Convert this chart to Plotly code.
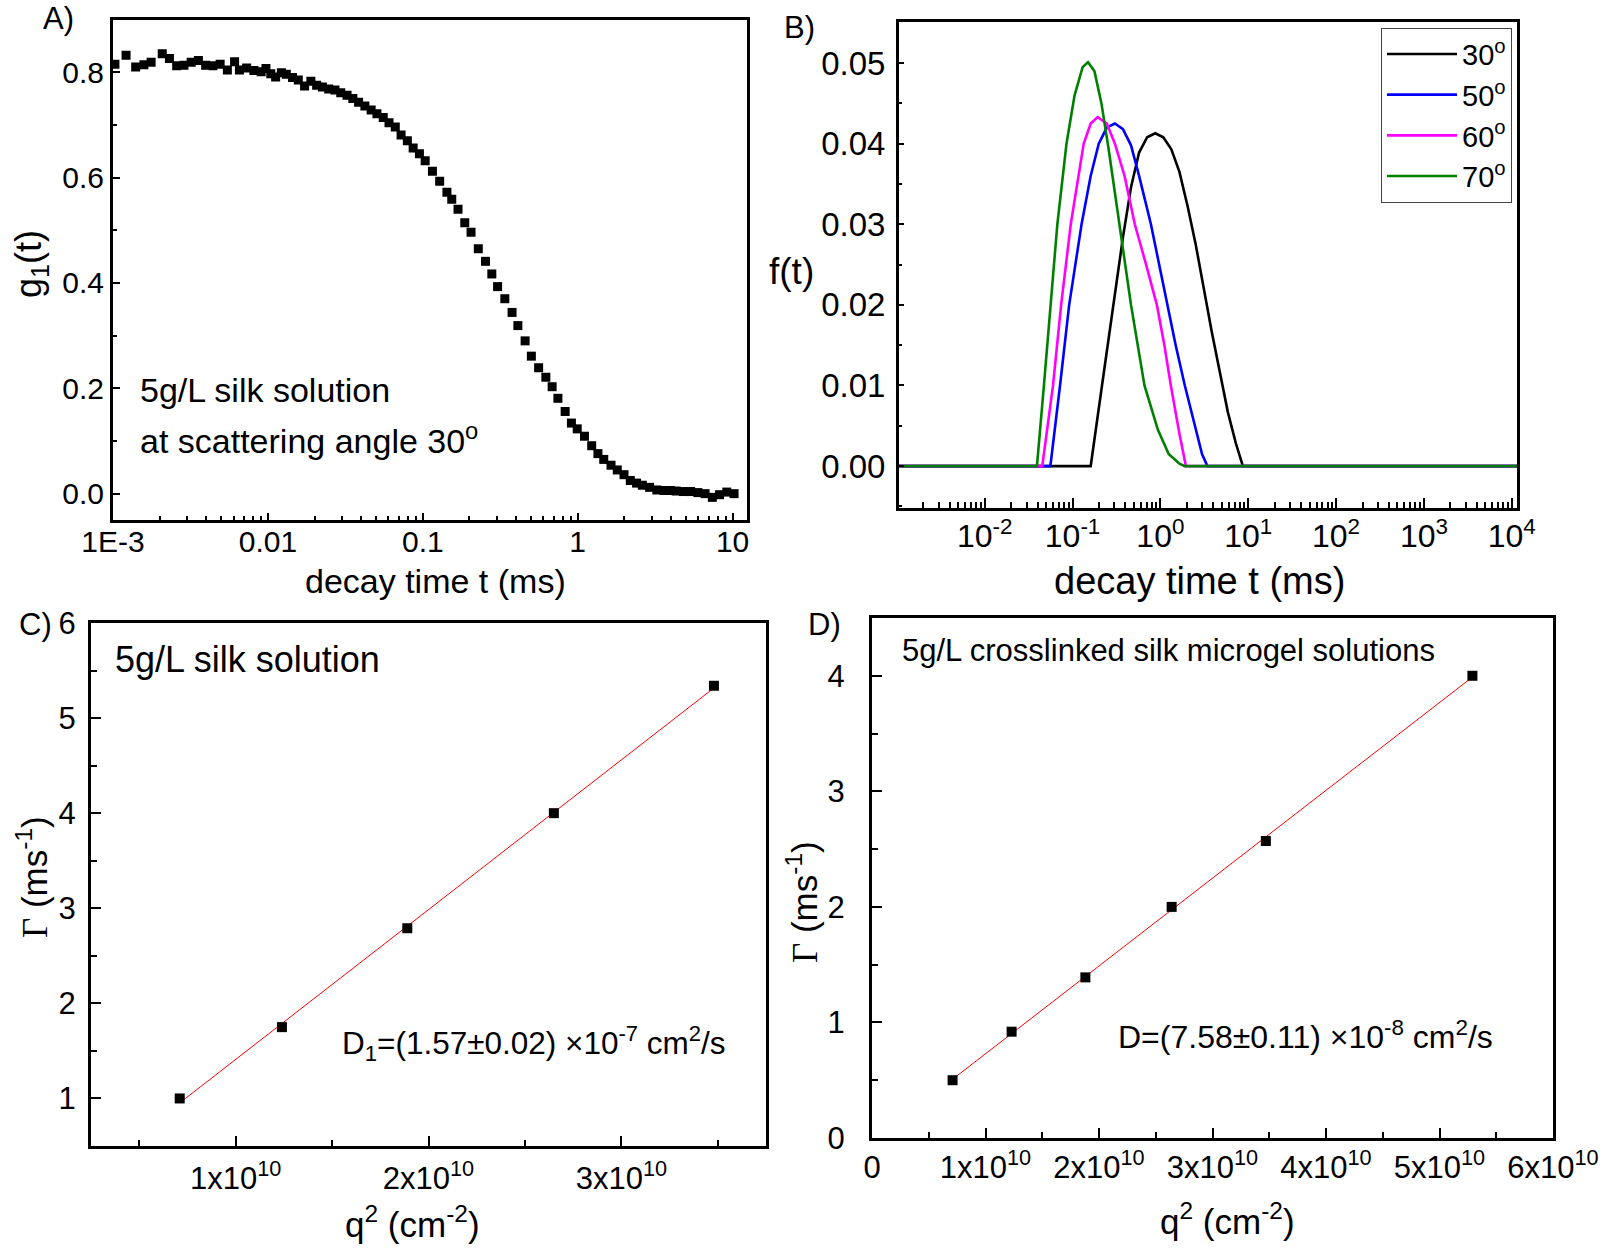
import numpy as np
import plotly.graph_objects as go

W, H = 1603, 1250
FONT = "Liberation Sans, Arial, sans-serif"

# ---------------- Panel A: g1(t) at 30 deg ----------------
decay_time_ms = [0.001029, 0.001214, 0.001401, 0.001583, 0.001762, 0.002079, 0.002314, 0.002577,
                 0.002870, 0.003197, 0.003560, 0.003964, 0.004415, 0.004916, 0.005474, 0.006095,
                 0.006549, 0.007293, 0.008122, 0.009045, 0.009716, 0.01044, 0.01122, 0.01222,
                 0.01314, 0.01442, 0.01571, 0.01725, 0.01894, 0.02064, 0.02249, 0.02469, 0.02710,
                 0.02954, 0.03243, 0.03535, 0.03851, 0.04228, 0.04642, 0.05058, 0.05553, 0.06051,
                 0.06644, 0.07241, 0.07950, 0.08664, 0.09510, 0.1036, 0.1154, 0.1285, 0.1431,
                 0.1538, 0.1688, 0.1866, 0.2049, 0.2282, 0.2541, 0.2790, 0.3040, 0.3385, 0.3770,
                 0.4110, 0.4576, 0.5022, 0.5595, 0.6228, 0.6837, 0.7452, 0.8299, 0.9109, 0.9929,
                 1.106, 1.231, 1.351, 1.473, 1.641, 1.801, 1.991, 2.186, 2.399, 2.615, 2.912,
                 3.244, 3.612, 3.964, 4.320, 4.812, 5.358, 5.967, 6.644, 7.400, 8.240, 9.176, 10.22]
g1_values = [0.815, 0.832, 0.810, 0.814, 0.819, 0.835, 0.826, 0.812, 0.813, 0.819, 0.822, 0.813,
             0.812, 0.815, 0.804, 0.820, 0.804, 0.808, 0.803, 0.801, 0.807, 0.797, 0.791, 0.799,
             0.796, 0.790, 0.785, 0.774, 0.783, 0.775, 0.772, 0.768, 0.766, 0.761, 0.756, 0.750,
             0.743, 0.736, 0.728, 0.721, 0.714, 0.704, 0.696, 0.681, 0.670, 0.656, 0.645, 0.632,
             0.612, 0.593, 0.572, 0.559, 0.540, 0.514, 0.496, 0.465, 0.441, 0.417, 0.393, 0.370,
             0.344, 0.319, 0.290, 0.261, 0.239, 0.221, 0.203, 0.181, 0.156, 0.134, 0.123, 0.109,
             0.091, 0.076, 0.065, 0.054, 0.045, 0.036, 0.025, 0.020, 0.016, 0.012, 0.007, 0.006,
             0.006, 0.005, 0.004, 0.004, 0.002, 0.000, -0.007, -0.002, 0.003, 0.000]

# ---------------- Panel B: decay time distributions ----------------
t_30 = [0.001, 0.1608, 0.2132, 0.2827, 0.3748, 0.4629, 0.5722, 0.7068, 0.8733, 1.079, 1.333,
        1.647, 2.035, 2.514, 3.107, 3.838, 4.742, 5.861, 7.240, 8.696, 12000]
f_30 = [0, 0, 0.0095, 0.0190, 0.0284, 0.0346, 0.0389, 0.0408, 0.0413, 0.0408, 0.0393,
        0.0365, 0.0323, 0.0276, 0.0219, 0.0167, 0.0117, 0.0067, 0.0028, 0, 0]
t_50 = [0.001, 0.0559, 0.0720, 0.0915, 0.1266, 0.1608, 0.1987, 0.2455, 0.3033, 0.3748, 0.4629,
        0.5722, 0.7801, 0.9640, 1.191, 1.493, 1.897, 2.514, 2.979, 3.429, 12000]
f_50 = [0, 0, 0.010, 0.020, 0.030, 0.036, 0.040, 0.0420, 0.0425, 0.0418, 0.0398,
        0.0360, 0.030, 0.025, 0.020, 0.015, 0.010, 0.0045, 0.0015, 0, 0]
t_60 = [0.001, 0.0452, 0.0599, 0.0741, 0.0954, 0.1338, 0.1608, 0.1932, 0.2455, 0.3033, 0.3909,
        0.5111, 0.6874, 0.9112, 1.110, 1.315, 1.647, 1.951, 12000]
f_60 = [0, 0, 0.010, 0.020, 0.030, 0.040, 0.0425, 0.0433, 0.0425, 0.040, 0.036,
        0.030, 0.025, 0.020, 0.015, 0.010, 0.004, 0, 0]
t_70 = [0.001, 0.0393, 0.0472, 0.0559, 0.0671, 0.0853, 0.1054, 0.1302, 0.1499, 0.1775, 0.2132,
        0.2561, 0.3396, 0.4629, 0.6587, 0.9372, 1.242, 1.647, 1.897, 12000]
f_70 = [0, 0, 0.010, 0.020, 0.030, 0.040, 0.046, 0.0495, 0.0501, 0.0490, 0.0450,
        0.0395, 0.030, 0.020, 0.010, 0.0045, 0.0015, 0.0003, 0, 0]
angle_names = ["30<sup>o</sup>", "50<sup>o</sup>", "60<sup>o</sup>", "70<sup>o</sup>"]
angle_colors = ["#000000", "#0000FF", "#FF00FF", "#008000"]

# ---------------- Panel C: silk solution ----------------
q2_silk = [0.71e10, 1.24e10, 1.89e10, 2.65e10, 3.48e10]
gamma_silk = [1.00, 1.75, 2.79, 4.00, 5.34]

# ---------------- Panel D: crosslinked microgel ----------------
q2_gel = [0.71e10, 1.23e10, 1.88e10, 2.64e10, 3.47e10, 5.29e10]
gamma_gel = [0.50, 0.92, 1.39, 2.00, 2.57, 4.00]

# tick labels
tickvals_A = [0.001, 0.01, 0.1, 1, 10]
ticktext_A = ["1E-3", "0.01", "0.1", "1", "10"]
tickvals_B = [1e-2, 1e-1, 1, 10, 100, 1000, 10000]
ticktext_B = ["10<sup>-2</sup>", "10<sup>-1</sup>", "10<sup>0</sup>", "10<sup>1</sup>",
              "10<sup>2</sup>", "10<sup>3</sup>", "10<sup>4</sup>"]
tickvals_C = [1e10, 2e10, 3e10]
ticktext_C = ["1x10<sup>10</sup>", "2x10<sup>10</sup>", "3x10<sup>10</sup>"]
tickvals_D = [0, 1e10, 2e10, 3e10, 4e10, 5e10, 6e10]
ticktext_D = ["0", "1x10<sup>10</sup>", "2x10<sup>10</sup>", "3x10<sup>10</sup>",
              "4x10<sup>10</sup>", "5x10<sup>10</sup>", "6x10<sup>10</sup>"]


def xp(px):
    return px / W


def yp(py):
    return 1 - py / H


fig = go.Figure()

# A
fig.add_trace(go.Scatter(x=decay_time_ms, y=g1_values, mode="markers",
                         marker=dict(symbol="square", size=9, color="black"),
                         xaxis="x", yaxis="y", showlegend=False))
# B
for t, f, nm, col in zip([t_30, t_50, t_60, t_70], [f_30, f_50, f_60, f_70], angle_names, angle_colors):
    fig.add_trace(go.Scatter(x=t, y=f, mode="lines", name=nm,
                             line=dict(color=col, width=2.6), xaxis="x2", yaxis="y2"))
# C
sC, iC = np.polyfit(q2_silk, gamma_silk, 1)
xC = np.array([min(q2_silk), max(q2_silk)])
fig.add_trace(go.Scatter(x=xC, y=sC * xC + iC, mode="lines", line=dict(color="#FF0000", width=1),
                         xaxis="x3", yaxis="y3", showlegend=False))
fig.add_trace(go.Scatter(x=q2_silk, y=gamma_silk, mode="markers",
                         marker=dict(symbol="square", size=10, color="black"),
                         xaxis="x3", yaxis="y3", showlegend=False))
# D
sD, iD = np.polyfit(q2_gel, gamma_gel, 1)
xD = np.array([min(q2_gel), max(q2_gel)])
fig.add_trace(go.Scatter(x=xD, y=sD * xD + iD, mode="lines", line=dict(color="#FF0000", width=1),
                         xaxis="x4", yaxis="y4", showlegend=False))
fig.add_trace(go.Scatter(x=q2_gel, y=gamma_gel, mode="markers",
                         marker=dict(symbol="square", size=10, color="black"),
                         xaxis="x4", yaxis="y4", showlegend=False))

base = dict(showline=True, linecolor="black", linewidth=3, mirror=True, ticks="inside",
            tickcolor="black", tickwidth=2, showgrid=False, zeroline=False, automargin=False,
            tickfont=dict(family=FONT, size=30, color="black"))


def ax(**kw):
    d = dict(base)
    d.update(kw)
    return d


def tf(size):
    return dict(family=FONT, size=size, color="black")


minor_A = [m * 10.0 ** e for e in range(-3, 2) for m in range(2, 10)]
minor_B = [m * 10.0 ** e for e in range(-3, 4) for m in range(2, 10)]

fig.update_layout(
    width=W, height=H, autosize=False,
    margin=dict(l=0, r=0, t=0, b=0, pad=0, autoexpand=False),
    paper_bgcolor="white", plot_bgcolor="white",
    font=dict(family=FONT, color="black"),
    xaxis=ax(type="log", range=[-3, 1.093], domain=[xp(113), xp(747)], anchor="y",
             tickmode="array", tickvals=tickvals_A, ticktext=ticktext_A, ticklen=7,
             ticklabelstandoff=-7, tickfont=tf(30),
             minor=dict(tickmode="array", tickvals=minor_A, ticks="inside", ticklen=4,
                        tickwidth=1.5, tickcolor="black")),
    yaxis=ax(range=[-0.05, 0.9], domain=[yp(520), yp(19.5)], anchor="x",
             tickmode="linear", tick0=0, dtick=0.2, tickformat=".1f", ticklen=7,
             ticklabelstandoff=0, tickfont=tf(30),
             minor=dict(dtick=0.1, tick0=0, ticks="inside", ticklen=4, tickwidth=1.5,
                        tickcolor="black")),
    xaxis2=ax(type="log", range=[-2.976, 4.06], domain=[xp(899), xp(1517)], anchor="y2",
              tickmode="array", tickvals=tickvals_B, ticktext=ticktext_B, ticklen=10,
              ticklabelstandoff=-2, tickfont=tf(32),
              minor=dict(tickmode="array", tickvals=minor_B, ticks="inside", ticklen=6,
                         tickwidth=1.5, tickcolor="black")),
    yaxis2=ax(range=[-0.0052, 0.0551], domain=[yp(508), yp(22)], anchor="x2",
              tickmode="linear", tick0=0, dtick=0.01, tickformat=".2f", ticklen=5,
              ticklabelstandoff=4, tickfont=tf(33),
              minor=dict(dtick=0.005, tick0=0, ticks="inside", ticklen=3, tickwidth=1.5,
                         tickcolor="black")),
    xaxis3=ax(range=[0.25e10, 3.75e10], domain=[xp(91), xp(766)], anchor="y3",
              tickmode="array", tickvals=tickvals_C, ticktext=ticktext_C, ticklen=10,
              ticklabelstandoff=3, tickfont=tf(31),
              minor=dict(dtick=0.5e10, tick0=0, ticks="inside", ticklen=6, tickwidth=1.5,
                         tickcolor="black")),
    yaxis3=ax(range=[0.5, 6], domain=[yp(1146), yp(623)], anchor="x3",
              tickmode="linear", tick0=0, dtick=1, ticklen=10, ticklabelstandoff=6,
              tickfont=tf(31),
              minor=dict(dtick=0.5, tick0=0, ticks="inside", ticklen=6, tickwidth=1.5,
                         tickcolor="black")),
    xaxis4=ax(range=[0, 6e10], domain=[xp(872), xp(1553)], anchor="y4",
              tickmode="array", tickvals=tickvals_D, ticktext=ticktext_D, ticklen=10,
              ticklabelstandoff=0, tickfont=tf(31),
              minor=dict(dtick=0.5e10, tick0=0, ticks="inside", ticklen=6, tickwidth=1.5,
                         tickcolor="black")),
    yaxis4=ax(range=[0, 4.5], domain=[yp(1138), yp(618)], anchor="x4",
              tickmode="linear", tick0=0, dtick=1, ticklen=10, ticklabelstandoff=18,
              tickfont=tf(31),
              minor=dict(dtick=0.5, tick0=0, ticks="inside", ticklen=6, tickwidth=1.5,
                         tickcolor="black")),
    legend=dict(x=xp(1512), y=yp(27.6), xanchor="right", yanchor="top",
                bgcolor="white", bordercolor="#444444", borderwidth=1,
                font=dict(family=FONT, size=29, color="black"), itemwidth=70,
                tracegroupgap=0),
)

GAMMA = "<span style=\"font-family:'Liberation Serif', 'Times New Roman', serif\">\u0393</span>"

annots = [
    ("A)", 58, 19, 31, "center", 0),
    ("B)", 799, 28, 31, "center", 0),
    ("C)", 35, 624, 31, "center", 0),
    ("D)", 824, 624, 31, "center", 0),
    ("5g/L silk solution", 138, 389.5, 34, "left", 0),
    ("at scattering angle 30<sup>o</sup>", 138, 438, 34, "left", 0),
    ("5g/L silk solution", 112.5, 659, 36, "left", 0),
    ("D<sub>1</sub>=(1.57\u00b10.02) \u00d710<sup>-7</sup> cm<sup>2</sup>/s", 340, 1043, 31.5, "left", 0),
    ("5g/L crosslinked silk microgel solutions", 900, 650, 31, "left", 0),
    ("D=(7.58\u00b10.11) \u00d710<sup>-8</sup> cm<sup>2</sup>/s", 1116, 1034.5, 32, "left", 0),
    ("decay time t (ms)", 436, 581, 34, "center", 0),
    ("g<sub>1</sub>(t)", 31, 264, 36, "center", -90),
    ("decay time t (ms)", 1199, 581, 38, "center", 0),
    ("f(t)", 791, 271, 37, "center", 0),
    ("q<sup>2</sup> (cm<sup>-2</sup>)", 412, 1222, 35, "center", 0),
    (GAMMA + " (ms<sup>-1</sup>)", 32, 877, 35, "center", -90),
    ("q<sup>2</sup> (cm<sup>-2</sup>)", 1227, 1219, 35, "center", 0),
    (GAMMA + " (ms<sup>-1</sup>)", 802, 902, 35, "center", -90),
]
for text, x, y, size, anchor, ang in annots:
    fig.add_annotation(text=text, x=xp(x), y=yp(y), xref="paper", yref="paper",
                       xanchor=anchor, yanchor="middle", showarrow=False, textangle=ang,
                       font=dict(family=FONT, size=size, color="black"))

fig.write_html("out.html", config={"displayModeBar": False},
               post_script="document.body.style.margin='0px';")
